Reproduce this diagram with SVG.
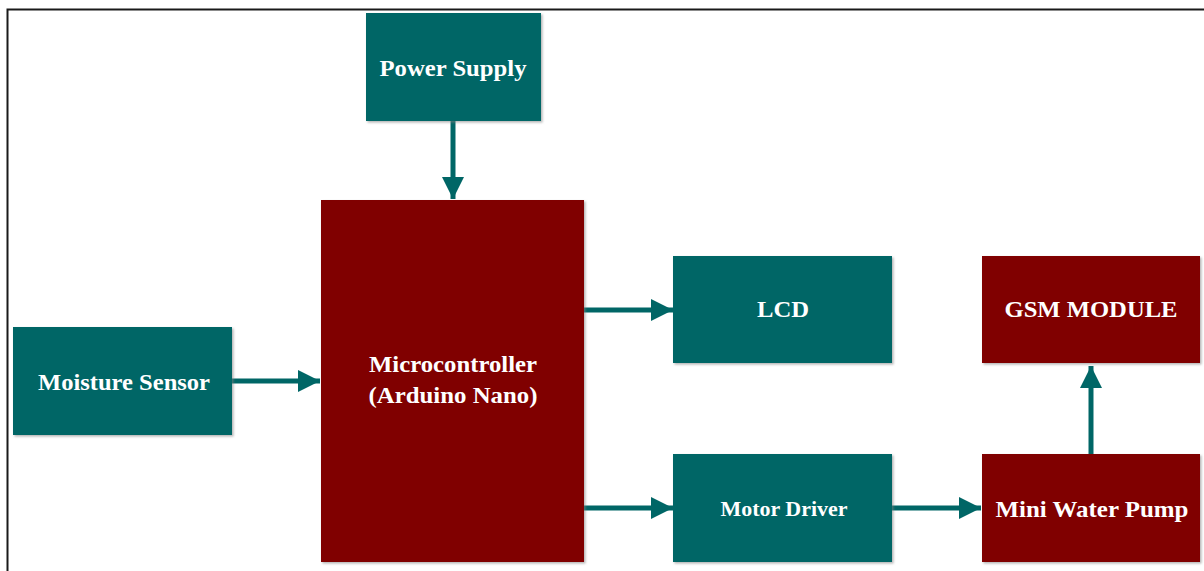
<svg xmlns="http://www.w3.org/2000/svg" width="1204" height="571" viewBox="0 0 1204 571">
<defs>
<filter id="sh" x="-5%" y="-5%" width="115%" height="115%">
<feDropShadow dx="1.5" dy="1.5" stdDeviation="1.2" flood-color="#808080" flood-opacity="0.6"/>
</filter>
<marker id="ah" viewBox="0 0 10 10" refX="10" refY="5" markerWidth="22" markerHeight="22" markerUnits="userSpaceOnUse" orient="auto">
<path d="M0,0 L10,5 L0,10 Z" fill="#006666"/>
</marker>
<style>
.teal{fill:#006666;filter:url(#sh)}
.red{fill:#800000;filter:url(#sh)}
.t{font-family:"Liberation Serif","Times New Roman",serif;font-weight:bold;fill:#ffffff;font-size:23px}
.s{font-size:20px}
.c{stroke:#006666;stroke-width:5;fill:none;marker-end:url(#ah)}
</style>
</defs>
<rect width="1204" height="571" fill="#ffffff"/>
<path d="M7.5,571 V9.5 H1204" fill="none" stroke="#1a1a1a" stroke-width="2"/>
<g id="connectors">
<line class="c" x1="453" y1="121" x2="453" y2="199"/>
<line class="c" x1="232" y1="381" x2="320" y2="381"/>
<line class="c" x1="584" y1="310" x2="673" y2="310"/>
<line class="c" x1="584" y1="508" x2="673" y2="508"/>
<line class="c" x1="892" y1="508" x2="981" y2="508"/>
<line class="c" x1="1091" y1="454" x2="1091" y2="366"/>
</g>
<g id="power-supply">
<rect class="teal" x="366" y="13" width="175" height="108"/>
<text class="t" x="453" y="76" text-anchor="middle" textLength="147" lengthAdjust="spacingAndGlyphs">Power Supply</text>
</g>
<g id="microcontroller">
<rect class="red" x="321" y="200" width="263" height="362"/>
<text class="t" x="453" y="372" text-anchor="middle" textLength="168" lengthAdjust="spacingAndGlyphs">Microcontroller</text>
<text class="t" x="453" y="403" text-anchor="middle" textLength="169" lengthAdjust="spacingAndGlyphs">(Arduino Nano)</text>
</g>
<g id="moisture-sensor">
<rect class="teal" x="13" y="327" width="219" height="108"/>
<text class="t" x="124" y="390" text-anchor="middle" textLength="172" lengthAdjust="spacingAndGlyphs">Moisture Sensor</text>
</g>
<g id="lcd">
<rect class="teal" x="673" y="256" width="219" height="107"/>
<text class="t" x="783" y="317" text-anchor="middle" textLength="52" lengthAdjust="spacingAndGlyphs">LCD</text>
</g>
<g id="gsm-module">
<rect class="red" x="982" y="256" width="218" height="107"/>
<text class="t" x="1091" y="317" text-anchor="middle" textLength="173" lengthAdjust="spacingAndGlyphs">GSM MODULE</text>
</g>
<g id="motor-driver">
<rect class="teal" x="673" y="454" width="219" height="108"/>
<text class="t s" x="784" y="516" text-anchor="middle" textLength="127" lengthAdjust="spacingAndGlyphs">Motor Driver</text>
</g>
<g id="mini-water-pump">
<rect class="red" x="982" y="454" width="218" height="108"/>
<text class="t" x="1092" y="517" text-anchor="middle" textLength="193" lengthAdjust="spacingAndGlyphs">Mini Water Pump</text>
</g>
</svg>
